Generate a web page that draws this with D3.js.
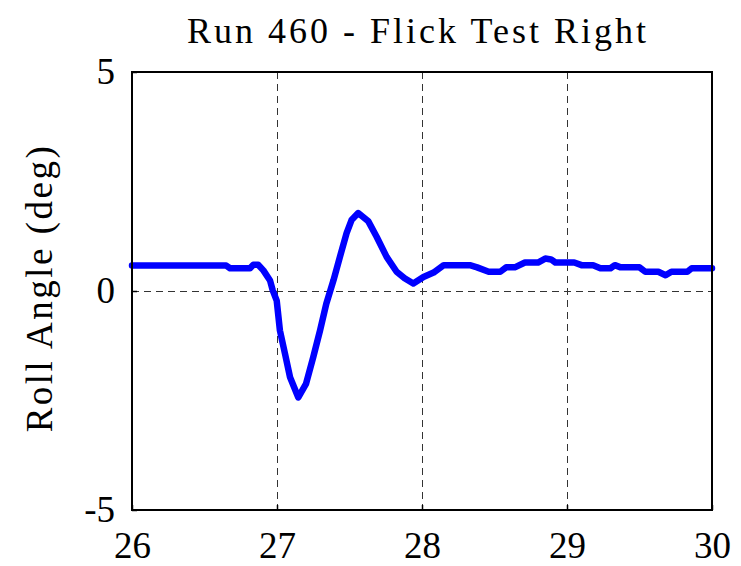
<!DOCTYPE html>
<html>
<head>
<meta charset="utf-8">
<script src="https://cdn.jsdelivr.net/npm/d3@7"></script>
<style>
  html, body { margin: 0; padding: 0; background: #fff; }
  text { font-family: "Liberation Serif", "Times New Roman", serif; }
</style>
</head>
<body>
<svg id="chart" width="741" height="566"></svg>
<script>
const titleText = "Run 460 - Flick Test Right";
const yLabelText = "Roll Angle (deg)";
const xTicks = [26, 27, 28, 29, 30];
const yTicks = [-5, 0, 5];
const timeValues = [26.0, 26.3, 26.65, 26.676, 26.814, 26.837, 26.87, 26.906, 26.952, 26.97, 26.998, 27.02, 27.055, 27.09, 27.147, 27.2, 27.25, 27.297, 27.34, 27.39, 27.434, 27.48, 27.514, 27.56, 27.63, 27.687, 27.756, 27.825, 27.88, 27.94, 28.01, 28.08, 28.15, 28.33, 28.38, 28.46, 28.54, 28.58, 28.64, 28.71, 28.80, 28.85, 28.89, 28.92, 29.05, 29.1, 29.18, 29.23, 29.3, 29.33, 29.37, 29.5, 29.54, 29.63, 29.68, 29.72, 29.83, 29.86, 30.0];
const rollValues = [0.58, 0.58, 0.58, 0.52, 0.52, 0.6, 0.6, 0.47, 0.24, 0.02, -0.22, -0.9, -1.43, -1.97, -2.43, -2.12, -1.51, -0.9, -0.29, 0.25, 0.78, 1.32, 1.62, 1.78, 1.59, 1.24, 0.78, 0.44, 0.29, 0.17, 0.32, 0.42, 0.59, 0.59, 0.54, 0.44, 0.44, 0.54, 0.54, 0.65, 0.65, 0.74, 0.72, 0.65, 0.65, 0.59, 0.59, 0.52, 0.52, 0.59, 0.54, 0.54, 0.44, 0.44, 0.36, 0.44, 0.44, 0.52, 0.52];

const svg = d3.select("#chart");
const L = 132, R = 712, T = 72, B = 510;

const x = d3.scaleLinear().domain([26, 30]).range([L, R]);
const y = d3.scaleLinear().domain([-5, 5]).range([B, T]);

// grid
const grid = svg.append("g").attr("stroke", "#333").attr("stroke-width", 1).attr("stroke-dasharray", "7,5");
grid.selectAll("line.gx").data(xTicks.filter(d => d > 26 && d < 30)).enter().append("line")
  .attr("x1", d => Math.round(x(d)) + 0.5).attr("x2", d => Math.round(x(d)) + 0.5).attr("y1", T).attr("y2", B);
grid.selectAll("line.gy").data(yTicks.filter(d => d > -5 && d < 5)).enter().append("line")
  .attr("y1", d => Math.round(y(d)) + 0.5).attr("y2", d => Math.round(y(d)) + 0.5).attr("x1", L).attr("x2", R);

// line
const data = timeValues.map((t, i) => [t, rollValues[i]]);
svg.append("path").datum(data)
  .attr("fill", "none").attr("stroke", "#0000ff").attr("stroke-width", 6.5)
  .attr("stroke-linejoin", "round").attr("stroke-linecap", "round")
  .attr("d", d3.line().x(d => x(d[0])).y(d => y(d[1])));

// axes (ticks inside)
const xAxis = d3.axisBottom(x).tickValues(xTicks).tickSize(-5).tickPadding(22).tickFormat(d => String(d));
const gx = svg.append("g").attr("transform", `translate(0,${B})`).call(xAxis);
gx.select(".domain").remove();
gx.selectAll("line").attr("stroke", "#000").attr("stroke-width", 1.5);
gx.selectAll("text").attr("font-size", 37).attr("fill", "#000").attr("font-family", "Liberation Serif");

const yAxis = d3.axisLeft(y).tickValues(yTicks).tickSize(-5).tickPadding(17).tickFormat(d => String(d));
const gy = svg.append("g").attr("transform", `translate(${L},0)`).call(yAxis);
gy.select(".domain").remove();
gy.selectAll("line").attr("stroke", "#000").attr("stroke-width", 1.5);
gy.selectAll("text").attr("font-size", 37).attr("fill", "#000").attr("font-family", "Liberation Serif");

// box
svg.append("rect").attr("x", L).attr("y", T).attr("width", R - L).attr("height", B - T)
  .attr("fill", "none").attr("stroke", "#000").attr("stroke-width", 2);

// title
svg.append("text").attr("x", (L + R) / 2 - 4).attr("y", 43).attr("text-anchor", "middle")
  .attr("font-size", 36).attr("letter-spacing", 3).text(titleText);

// y label
svg.append("text").attr("transform", `translate(52,${(T + B) / 2 - 3}) rotate(-90)`)
  .attr("text-anchor", "middle").attr("font-size", 37).attr("letter-spacing", 2.5).text(yLabelText);
</script>
</body>
</html>
